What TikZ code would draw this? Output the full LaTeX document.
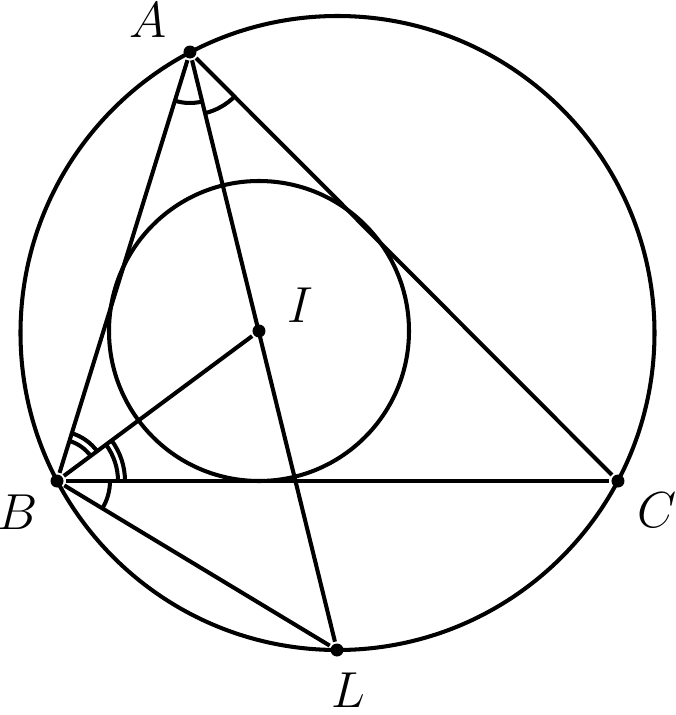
\documentclass[tikz,border=0pt]{standalone}
\usepackage{amsmath}
\usetikzlibrary{positioning,angles}

\begin{document}
\begin{tikzpicture}[line width=1.15pt,
	dot/.style={circle,fill=black,inner sep=0pt,minimum size=0.13cm},
	lbl/.style={font=\Large,inner sep=1pt}]
	\fill[white] (0,0) rectangle (6.76,7.15);
	\useasboundingbox (0,0) rectangle (6.76,7.15);
	\coordinate (O) at (3.375,3.82);
	\node[dot] (A) at (1.90,6.63) {};
	\node[dot] (B) at (0.57,2.34) {};
	\node[dot] (C) at (6.18,2.34) {};
	\node[dot] (I) at (2.59,3.84) {};
	\node[dot] (L) at (3.37,0.65) {};
	\node[lbl] (la) at (1.48,6.95) {$A$};
	\node[lbl] (lb) at (0.18,2.03) {$B$};
	\node[lbl] (lc) at (6.57,2.05) {$C$};
	\node[lbl] (li) at (3.00,4.10) {$I$};
	\node[lbl,inner sep=0pt] (ll) at (3.48,0.25) {$L$};
	\draw (O) circle (3.17);
	\draw (I) circle (1.50);
	\draw (A) -- (B);
	\draw (B) -- (C);
	\draw (C) -- (A);
	\draw (A) -- (L);
	\draw (B) -- (I);
	\draw (B) -- (L);
	% angle marks
	\pic[draw, angle radius=0.51cm] {angle=B--A--I};
	\pic[draw, angle radius=0.63cm] {angle=I--A--C};
	\pic[draw, angle radius=0.42cm] {angle=I--B--A};
	\pic[draw, angle radius=0.50cm] {angle=I--B--A};
	\pic[draw, angle radius=0.61cm] {angle=C--B--I};
	\pic[draw, angle radius=0.68cm] {angle=C--B--I};
	\pic[draw, angle radius=0.53cm] {angle=L--B--C};
\end{tikzpicture}
\end{document}
